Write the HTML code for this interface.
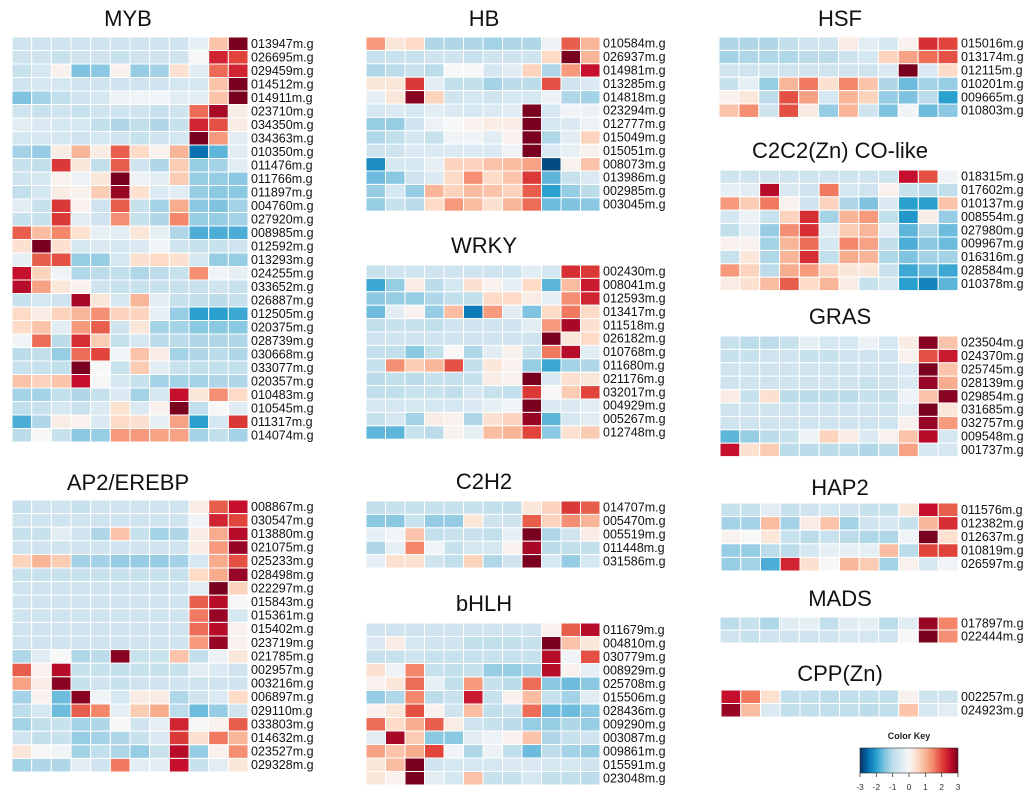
<!DOCTYPE html>
<html><head><meta charset="utf-8"><style>
body{margin:0;background:#fff;}
svg{display:block;font-family:"Liberation Sans",Arial,sans-serif;}
</style></head><body>
<svg id="chart" width="1024" height="802" viewBox="0 0 1024 802" xmlns="http://www.w3.org/2000/svg">
<defs>
<linearGradient id="keyGrad" x1="0" x2="1" y1="0" y2="0">
<stop offset="0" stop-color="#053061"/><stop offset="0.083" stop-color="#0571b0"/><stop offset="0.167" stop-color="#2aa0cf"/><stop offset="0.25" stop-color="#7fc3e0"/><stop offset="0.333" stop-color="#bcdcea"/><stop offset="0.417" stop-color="#dbeaf2"/><stop offset="0.5" stop-color="#f7f7f7"/><stop offset="0.583" stop-color="#fddbc7"/><stop offset="0.667" stop-color="#f9b597"/><stop offset="0.75" stop-color="#f4866a"/><stop offset="0.833" stop-color="#e0443a"/><stop offset="0.917" stop-color="#c50f2c"/><stop offset="1" stop-color="#7a0020"/>
</linearGradient>
</defs>
<g id="panels"></g>
<g>
<text x="909" y="739" font-size="9" font-weight="bold" text-anchor="middle" fill="#222">Color Key</text>
<rect x="860" y="748" width="98" height="25" fill="url(#keyGrad)" stroke="#333" stroke-width="0.6"/>
<g id="keyTicks"></g>
</g>
</svg>
<script>
const keyTicks = [-3,-2,-1,0,1,2,3];

const mybGenes = ["013947","026695","029459","014512","014911","023710","034350","034363","010350","011476","011766","011897","004760","027920","008985","012592","013293","024255","033652","026887","012505","020375","028739","030668","033077","020357","010483","010545","011317","014074"];
const mybValues = [
[-0.7,-0.7,-0.7,-0.7,-0.7,-0.7,-0.7,-0.7,-0.7,-0.3,0.8,3],
[-0.7,-0.7,-0.8,-0.7,-0.7,-0.8,-0.7,-0.7,-0.7,0,2.3,2],
[-0.8,-0.6,0.1,-1.5,-1.4,0.1,-1.3,-1.2,0.4,-0.4,1.7,2.3],
[-0.7,-0.6,-0.6,-0.7,-0.7,-0.7,-0.7,-0.7,-0.6,-0.6,0.8,3],
[-1.5,-1.2,-0.9,-0.7,-0.6,-0.2,-0.1,-0.1,-0.4,-0.4,0.8,3],
[-0.7,-0.8,-0.7,-0.8,-0.7,-0.7,-0.7,-0.8,-0.7,1.7,2.7,0.2],
[-0.4,-0.5,-0.6,-0.6,-0.9,-1.1,-0.9,-1.1,-0.8,2.3,1.9,0.2],
[-0.6,-0.6,-0.6,-0.7,-0.6,-0.7,-0.8,-0.7,-0.6,3,1.3,-0.4],
[-1.2,-1.3,0.2,1,0.2,1.8,0.5,0.1,1,-2.5,-1.7,-0.4],
[-0.8,-0.9,2.1,0.3,-0.9,1.8,-0.7,-1.1,0.7,-1.3,-1.2,-0.4],
[-0.7,-0.6,0.1,-0.2,0.3,3,-0.2,-0.4,0.7,-1.3,-1.3,-1.4],
[-0.9,-0.6,0.2,0.1,0.7,2.8,0.4,-0.5,-0.4,-1.3,-1.4,-1.4],
[-0.4,-0.8,2.1,0.1,-0.7,1.8,-0.8,-1.2,1.1,-1.4,-1.5,-1.2],
[-0.8,-0.8,2.1,-0.4,-0.7,1.4,-0.8,-1.1,1.5,-1.3,-1.3,-1.2],
[1.8,0.9,1.5,0.4,-0.3,-0.4,0.3,-0.3,-1.1,-1.8,-1.8,-1.8],
[0.4,3,0.4,-0.6,-0.5,-0.6,-0.5,-0.1,-0.7,-0.8,-0.8,-0.7],
[-0.3,1.8,1.9,-1.3,-1.3,-0.6,0.4,0.5,0.4,-0.6,-1.3,-1.3],
[2.5,0.6,-0.1,-1.1,-1,-0.9,-1.1,-1,-0.8,1.4,-0.1,-0.3],
[2.6,1.2,0.3,0.1,-0.7,-0.8,-0.8,-0.8,-0.8,-0.8,-0.7,-0.8],
[-0.8,-0.6,-0.7,2.7,0.3,-0.6,1,-0.4,-0.8,-0.9,-1,-0.8],
[0.5,0.2,0.6,1,1.4,0.6,0.6,-0.3,-1.3,-2,-2,-1.9],
[0.5,0.8,-0.4,1.3,1.8,-0.7,0.3,-1.2,-1.2,-1.4,-1.4,-1.4],
[-0.1,1.7,-1,2.2,0.7,-0.8,-0.6,-1,-1,-1.1,-1.1,-1.1],
[-1,-0.9,-1.3,1.7,2,-0.1,0.8,0.2,-1.2,-1.1,-1,-1.1],
[-0.8,-0.8,-0.9,3,0,-0.8,0.7,-0.4,-0.8,-0.9,-0.9,-0.9],
[0.8,0.6,0.8,2.5,0,-0.6,-0.8,-1.2,-1.2,-1.2,-1.1,-1.1],
[-1.2,-1.2,-0.9,-1.1,-0.8,-0.5,-1.2,-0.6,2.5,0.3,1.4,0.5],
[-0.9,-0.8,-0.6,-0.8,-0.5,0.4,-0.5,0.1,3,-0.9,0,-0.4],
[-1.8,-1.1,0.2,0.1,-0.5,0.5,0.4,-0.3,1.2,-2,-0.6,2.1],
[-1,0,-0.8,-1.4,-1.3,1.3,1.3,1.2,1.2,-1.2,-0.9,-1.2]];

const ap2Genes = ["008867","030547","013880","021075","025233","028498","022297","015843","015361","015402","023719","021785","002957","003216","006897","029110","033803","014632","023527","029328"];
const ap2Values = [
[-0.8,-0.7,-0.7,-0.8,-0.7,-0.7,-0.7,-0.7,-0.7,0.2,1.8,2.5],
[-0.7,-0.7,-0.7,-0.7,-0.7,-0.7,-0.7,-0.7,-0.7,-0.1,2.3,2],
[-0.8,-0.8,-0.4,-0.7,-1.1,0.8,-0.8,-1.2,-1.1,0.2,1.1,2.6],
[-0.7,-0.7,-0.7,-0.7,-0.7,-0.7,-0.7,-0.7,-0.7,0.2,1.3,2.8],
[0.6,1,0.7,-1.2,-1.2,-1.3,-1.3,-1.3,-1.2,-0.6,1.1,1.9],
[-0.8,-0.8,-0.8,-0.8,-0.8,-0.8,-0.8,-0.8,-0.8,0.5,1.1,2.8],
[-0.7,-0.7,-0.7,-0.7,-0.7,-0.7,-0.7,-0.7,-0.7,-0.4,3,0.6],
[-0.7,-0.7,-0.7,-0.7,-0.7,-0.7,-0.7,-0.7,-0.7,1.8,2.6,0],
[-0.7,-0.7,-0.7,-0.7,-0.7,-0.7,-0.7,-0.7,-0.7,1.6,2.8,-0.6],
[-0.7,-0.7,-0.7,-0.7,-0.7,-0.7,-0.7,-0.7,-0.7,1.7,2.6,0.1],
[-0.7,-0.7,-0.7,-0.7,-0.7,-0.7,-0.7,-0.7,-0.7,1.3,2.8,0.1],
[-1.1,-0.4,0,-1.1,-1,2.9,-0.8,-0.8,0.8,-0.9,-0.2,0.3],
[1.8,0.1,2.6,-0.8,-0.8,-0.9,-0.8,-0.8,-0.8,-0.4,-0.5,-0.7],
[1.2,0.2,2.9,-0.8,-0.7,-0.8,-0.7,-0.7,-0.7,-0.7,-0.7,-0.7],
[-1.2,0.1,-1.6,2.9,-0.1,-0.6,0.2,0.2,-1.1,-0.7,-0.5,0.5],
[-1,-0.6,-1.6,1.8,1.5,-0.3,0.7,1.1,-1,-1.6,-1.3,-0.7],
[-1.2,-0.9,-0.8,-1.2,-1.1,0,-0.7,-0.3,2.3,0,0.1,1.8],
[-0.7,-0.9,-0.8,-1.3,-1.2,-1.1,-0.8,-0.5,2.1,0.4,1.6,1],
[0.3,0,-0.1,-1.2,-0.9,-1.1,-1.3,-0.8,2.6,-1.3,0.1,1.4],
[-1.2,-1.1,-1.1,-0.4,-0.7,1.6,-0.4,-0.4,2.5,-0.8,-0.4,0.3]];

const hbGenes = ["010584","026937","014981","013285","014818","023294","012777","015049","015051","008073","013986","002985","003045"];
const hbValues = [
[1.3,0.3,0.5,-1.1,-1.1,-1.1,-1.2,-1.1,-1.1,-0.2,1.8,1],
[-0.8,-0.8,-0.8,-0.7,-0.7,-0.8,-0.7,-0.7,-0.7,0.5,3,1],
[-1.1,-1,-0.8,-1,0,0,-0.6,-0.4,0.6,-1.1,1.3,2.5],
[0.3,0.3,2.1,-0.4,-0.9,-0.9,-1.2,-1,-1,1.9,-0.7,-0.5],
[-0.3,0.3,2.9,0.6,-0.7,-0.6,-0.7,-0.6,-0.6,-0.2,-1.1,-1.2],
[-0.6,-0.5,-0.6,-0.4,-0.5,-0.6,-0.5,-0.4,3,-0.6,-0.1,-0.2],
[-1.3,-1.3,-0.7,-0.2,0,0.1,0.2,0.2,3,-0.6,-0.5,-0.2],
[-1.1,-0.9,-0.6,-0.8,-0.1,-0.1,-0.4,0.1,3,-1.1,-0.4,0.6],
[-0.7,-0.7,-0.5,-0.5,-0.5,-0.5,-0.5,-0.1,3,-0.5,-0.3,0.1],
[-2.2,-0.6,-0.6,-0.3,0.6,0.6,0.8,0.9,1.2,-2.8,0.1,0.8],
[-1.6,-1.4,-0.7,-0.5,0.5,1.4,0.5,0.8,2.1,-1.7,-0.8,-0.5],
[-1.3,-0.6,-1.3,1,0.6,0.9,0.8,0.6,1.8,-2,-1.3,-1],
[-1.3,-0.8,-1,0.5,1.3,0.9,0.4,1,1.7,-1.6,-1.5,-1.4]];

const wrkyGenes = ["002430","008041","012593","013417","011518","026182","010768","011680","021176","032017","004929","005267","012748"];
const wrkyValues = [
[-0.8,-0.7,-0.7,-0.7,-0.7,-0.7,-0.7,-0.7,-0.4,-0.6,2.2,2.1],
[-1.9,-1.3,0.2,-1,-0.6,0.4,0.1,-0.3,0.5,-1.7,0.9,2.4],
[-1.4,-1.3,-1.3,-1.1,-0.9,-0.9,0.5,0.5,0.2,-0.3,1.4,2.3],
[-1.6,-0.4,0.1,-1.3,0.9,-2.4,1.3,-0.4,-1.5,0.5,1.6,0.5],
[-0.9,-0.8,-0.8,-0.9,-0.7,-0.7,-0.7,-0.7,-0.4,1.3,2.7,0.4],
[-0.7,-0.7,-0.7,-0.7,-0.7,-0.7,-0.7,-0.7,-0.7,3,0.3,0.5],
[-0.9,-0.9,-1.4,-0.9,0,-1.1,-0.4,0.1,-0.8,1.6,2.6,-0.4],
[-0.8,1.4,0.7,1,1.9,-0.9,0.3,0.1,-1.3,-1.9,-1.2,-1.1],
[-1,-0.9,-1,-0.8,-0.8,-0.8,0.2,0.1,3,-0.5,0.4,0.3],
[-0.9,-0.9,-0.8,-0.8,-0.9,-0.6,-0.8,-0.9,2.1,0,0.7,2],
[-0.6,-0.6,-0.6,-0.6,-0.6,-0.5,-0.3,-0.1,3,-0.5,-0.5,-0.4],
[-0.8,-0.6,-1.2,0.2,0.1,-1.1,0.4,0.6,2.8,-1.7,-0.6,-0.4],
[-1.7,-1.7,-0.8,-1,0.1,-0.3,0.9,1,2,-1.4,0.4,0.7]];

const c2h2Genes = ["014707","005470","005519","011448","031586"];
const c2h2Values = [
[-0.9,-0.8,-0.8,-0.8,-0.8,-0.8,-0.9,-0.9,0.3,0.6,2.1,1.8],
[-1.4,-1.4,-0.8,-1.3,-1.3,0.3,-0.7,-0.7,1.8,0.6,1.4,1],
[-0.3,-0.1,0.8,-0.9,-0.8,-0.8,-0.9,-0.3,3,-1.1,-0.7,0.2],
[-1.1,-0.3,1.5,-0.1,-0.8,-0.6,-0.6,0.1,2.7,-1,-0.9,-0.9],
[-0.3,0.4,0.4,-0.7,-0.9,0.6,-1.1,-0.7,3,-0.6,-1.3,-0.6]];

const bhlhGenes = ["011679","004810","030779","008929","025708","015506","028436","009290","003087","009861","015591","023048"];
const bhlhValues = [
[-0.7,-0.7,-0.7,-0.7,-0.7,-0.7,-0.7,-0.7,-0.7,0.1,1.8,2.6],
[-0.5,0.2,-0.6,-0.7,-0.7,-0.9,-0.9,-0.9,-0.8,3,0.8,0.3],
[-0.8,-0.8,-0.7,-0.8,-0.8,-0.8,-0.8,-0.8,-0.8,2.6,-0.1,1.9],
[0.4,-0.2,1.5,-0.8,-0.9,-0.8,-1.3,-1.3,-1.2,2.6,0.1,-0.3],
[0.1,0.3,1.7,-0.3,-0.9,1.3,-0.8,-1,1.7,-1.4,-1.6,-1.4],
[-1.3,-1.1,1.5,-1,-0.8,2.4,-0.8,0.1,0.9,-0.8,-1.2,-0.4],
[0.1,0.3,1.9,0.1,-0.7,0.9,-0.9,-0.8,1.7,-1.6,-1.6,-1.4],
[1.7,0.5,1.1,1.8,0.2,-0.7,-0.8,-1,-1.3,-1.3,-1.1,-1.3],
[-0.4,2.7,0.7,-1.4,-1.4,-0.4,-0.2,0.1,0.8,-1.1,-0.8,-0.7],
[1.2,0.8,1.1,2,-0.1,-1.1,-0.2,-0.9,-1.6,-1,-1.2,-1.3],
[0.3,0.9,3,-0.7,-0.6,-0.6,-0.6,-0.5,-0.5,-0.6,-0.6,-0.7],
[0.3,0.1,3,-0.4,-0.6,0.8,-0.8,-0.8,-0.6,-0.9,-0.9,-1]];

const hsfGenes = ["015016","013174","012115","010201","009665","010803"];
const hsfValues = [
[-1.1,-1.1,-1.1,-0.9,-0.7,-0.7,0.2,-0.4,-0.6,0.1,2.2,2],
[-1.2,-1.1,-1.1,-1.1,-1,-1,-0.7,-0.6,0.6,1.2,1.7,1.9],
[-0.7,-0.7,-0.7,-0.7,-0.7,-0.7,-0.7,-0.7,-0.5,3,-0.5,0.5],
[-0.8,-0.3,-1.3,1,1.6,0.4,1.5,0.8,-1.1,-1.6,-1.2,-1.3],
[0.1,0.3,-1,1.9,1.2,-0.6,1,0.6,-1.3,-1.5,-1,-2],
[0.8,1.4,-0.7,1.9,0.2,-1.3,1,-0.7,-1.5,-0.1,-1.6,-1.4]];

const c2c2Genes = ["018315","017602","010137","008554","027980","009967","016316","028584","010378"];
const c2c2Values = [
[-0.7,-0.7,-0.7,-0.7,-0.7,-0.7,-0.7,-0.7,-0.7,2.5,1.9,-0.1],
[-0.3,-0.4,2.6,-0.5,-0.7,1.6,-0.6,-0.7,0.1,-0.8,-1,-0.9],
[1.3,0.7,1.6,0.1,-0.7,0.6,-1.1,-1.5,-0.5,-2,-2,0.8],
[-0.6,-0.2,-0.8,0.6,2.2,-1.2,1,1.3,-0.9,-2.1,0.2,-1.3],
[-0.9,-0.4,-1.3,1.4,2.2,-0.4,0.7,1,-0.4,-1.7,-1.1,-1.6],
[0.1,0.1,-1.2,1,1.7,-0.6,1.5,1.2,-0.9,-1.8,-1.4,-1.6],
[-0.8,0.3,-1.1,1,2.2,-0.9,1.1,1,-1.1,-1.5,-1.2,-1.2],
[1.3,0.6,-1,1.1,1.3,0.6,0.3,0.3,-0.8,-1.9,-1.6,-1.9],
[0.2,0.4,0.9,1.8,0.5,1,0.2,-0.8,-0.6,-2,-2.3,-1.7]];

const grasGenes = ["023504","024370","025745","028139","029854","031685","032757","009548","001737"];
const grasValues = [
[-0.8,-1,-1,-0.8,-0.3,-0.6,-0.6,-0.2,-0.6,0.2,2.9,0.8],
[-0.8,-0.8,-0.7,-0.7,-0.8,-0.8,-0.7,-0.7,-0.7,0.1,1.9,2.4],
[-0.7,-0.7,-0.7,-0.7,-0.7,-0.7,-0.7,-0.7,-0.7,-0.5,3,0.8],
[-0.7,-0.7,-0.7,-0.7,-0.7,-0.7,-0.7,-0.8,-0.7,-0.5,2.8,1.1],
[0.2,-0.8,0.4,-1,-1,-1,-1,-0.8,-0.9,-0.2,0.8,2.9],
[-0.7,-0.7,-0.7,-0.7,-0.7,-0.7,-0.7,-0.7,-0.7,-0.4,3,0.3],
[-0.7,-0.7,-0.7,-0.7,-0.7,-0.7,-0.7,-0.7,-0.7,0.1,2.8,1.3],
[-1.7,-1.3,-1,-0.8,-0.2,0.6,0.2,-0.5,0.1,0.8,2.6,-0.6],
[2.5,0.4,0.7,-1,-1,-1,-1,-1.1,-1,1.2,-0.6,-0.6]];

const hap2Genes = ["011576","012382","012637","010819","026597"];
const hap2Values = [
[-0.8,-0.8,-0.4,-0.8,-0.7,-0.6,-0.7,-0.8,-0.8,0.3,2.5,1.8],
[-1.2,-1.2,0.9,-1.2,0.2,0.8,-1.2,-0.7,-0.6,-0.8,1,2.2],
[0.1,0,0.3,-0.8,-1,-0.8,-1,-1.1,-1.1,-0.1,3,0.4],
[-1.3,-1.3,-1,-1,-0.6,-0.3,-0.3,-0.3,0.9,-1,2,2],
[-1.3,-1.2,-1.8,2.3,0.4,0,1,0.7,-1.2,0.1,-0.6,-0.1]];

const madsGenes = ["017897","022444"];
const madsValues = [
[-1,-0.8,-1.1,-0.4,-0.3,-0.9,-0.4,-0.3,-1,-0.4,2.8,1.5],
[-0.7,-0.8,-0.7,-0.7,-0.7,-0.7,-0.6,-0.6,-0.7,0,3,1.4]];

const cppGenes = ["002257","024923"];
const cppValues = [
[2.5,1.6,0.4,-0.9,-0.9,-1,-0.9,-0.9,-0.9,0.1,-0.7,-0.7],
[2.8,0.9,-0.5,-0.9,-0.9,-0.9,-0.9,-1,-0.9,0.8,-0.6,-0.4]];

const NS = "http://www.w3.org/2000/svg";
const stops = [[-3,"#053061"],[-2.5,"#0571b0"],[-2,"#2aa0cf"],[-1.5,"#7fc3e0"],[-1,"#bcdcea"],[-0.5,"#dbeaf2"],[0,"#f7f7f7"],[0.5,"#fddbc7"],[1,"#f9b597"],[1.5,"#f4866a"],[2,"#e0443a"],[2.5,"#c50f2c"],[3,"#7a0020"]];
function hex(h){return [parseInt(h.substr(1,2),16),parseInt(h.substr(3,2),16),parseInt(h.substr(5,2),16)];}
function colorScale(v){
  v=Math.max(-3,Math.min(3,v));
  for(let i=0;i<stops.length-1;i++){
    if(v<=stops[i+1][0]){
      const t=(v-stops[i][0])/(stops[i+1][0]-stops[i][0]);
      const a=hex(stops[i][1]),b=hex(stops[i+1][1]);
      return "rgb("+a.map((c,k)=>Math.round(c+(b[k]-c)*t)).join(",")+")";
    }
  }
  return stops[stops.length-1][1];
}
const root=document.getElementById("panels");
function mk(tag,attrs){const e=document.createElementNS(NS,tag);for(const k in attrs)e.setAttribute(k,attrs[k]);return e;}

function drawPanel(key,title,genes,values,x0,y0,w,rowH,titleX,titleY){
  const g=mk("g",{});
  
  
  const t=mk("text",{x:titleX,y:titleY,"font-size":"22","text-anchor":"middle",fill:"#111"});
  
  
  t.textContent=title;
  g.appendChild(t);
  const ncol=values[0].length, cw=w/ncol;
  const xScale=c=>x0+c*cw, yScale=r=>y0+r*rowH;
  values.forEach((row,r)=>{
    row.forEach((v,c)=>{
      const rect=mk("rect",{x:xScale(c),y:yScale(r),width:cw,height:rowH,fill:colorScale(v),stroke:"#fff","stroke-width":"1"});
      
      
      g.appendChild(rect);
    });
    const lb=mk("text",{x:x0+w+3,y:yScale(r)+rowH/2+4,"font-size":"12.5",fill:"#111"});
    
    
    lb.textContent=genes[r]+"m.g";
    g.appendChild(lb);
  });
  root.appendChild(g);
}
drawPanel("myb","MYB",mybGenes,mybValues,12,37,236,13.5,128,26);
drawPanel("ap2","AP2/EREBP",ap2Genes,ap2Values,12,500,236,13.6,128,490);
drawPanel("hb","HB",hbGenes,hbValues,366,37,234,13.4,484,26);
drawPanel("wrky","WRKY",wrkyGenes,wrkyValues,366,265,234,13.4,484,253);
drawPanel("c2h2","C2H2",c2h2Genes,c2h2Values,366,501,234,13.4,484,489);
drawPanel("bhlh","bHLH",bhlhGenes,bhlhValues,366,623,234,13.5,484,611);
drawPanel("hsf","HSF",hsfGenes,hsfValues,719,37,239,13.4,840,26);
drawPanel("c2c2","C2C2(Zn) CO-like",c2c2Genes,c2c2Values,720,170,238,13.4,840,158);
drawPanel("gras","GRAS",grasGenes,grasValues,720,336,238,13.4,840,324);
drawPanel("hap2","HAP2",hap2Genes,hap2Values,721,503,237,13.6,840,495);
drawPanel("mads","MADS",madsGenes,madsValues,720,617,238,13,840,606);
drawPanel("cpp","CPP(Zn)",cppGenes,cppValues,721,690,237,13.5,840,681);

const kt=document.getElementById("keyTicks");
keyTicks.forEach(v=>{
  const x=860+(v+3)/6*98;
  const l=mk("line",{x1:x,x2:x,y1:773,y2:777,stroke:"#333","stroke-width":"0.8"});
  
  
  kt.appendChild(l);
  const tx=mk("text",{x:x,y:790,"font-size":"8.5","text-anchor":"middle",fill:"#333"});
  
  
  tx.textContent=String(v);
  kt.appendChild(tx);
});
</script>
</body></html>
